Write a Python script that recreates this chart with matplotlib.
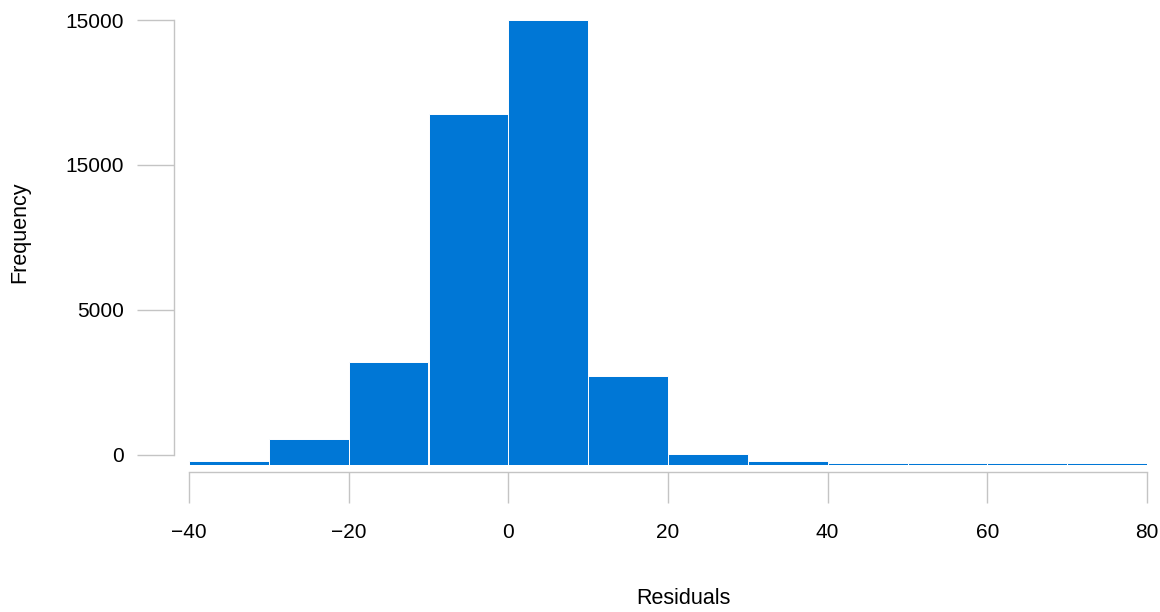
import numpy as np
import matplotlib.pyplot as plt

plt.rcParams['font.family'] = ['Liberation Sans', 'DejaVu Sans']

# histogram bins (residuals) and counts
bin_edges = [-40, -30, -20, -10, 0, 10, 20, 30, 40, 50, 60, 70, 80]
counts = [150, 890, 3540, 12090, 15330, 3080, 380, 130, 80, 80, 60, 60]
base = -345  # bars start a little below the 0 tick, as in the reference

x_ticks = [-40, -20, 0, 20, 40, 60, 80]
x_labels = ['\u221240', '\u221220', '0', '20', '40', '60', '80']
y_ticks = [0, 5000, 10000, 15000]
y_labels = ['0', '5000', '15000', '15000']

fig = plt.figure(figsize=(11.6, 6.12), dpi=100)
ax = fig.add_axes([189/1160, 1 - 465/612, 958/1160, 445/612])

left = np.array(bin_edges[:-1])
widths = np.diff(bin_edges)
ax.bar(left, counts, width=widths, bottom=base, align='edge',
       color='#0077d6', edgecolor='white', linewidth=0.7)

ax.set_xlim(-40, 80)
ax.set_ylim(base, 15000)

grey = '#c4c4c4'
for s in ['top', 'right']:
    ax.spines[s].set_visible(False)
ax.spines['left'].set_position(('outward', 11))
ax.spines['left'].set_bounds(0, 15000)
ax.spines['bottom'].set_position(('outward', 5.3))
ax.spines['bottom'].set_bounds(-40, 80)
for s in ['left', 'bottom']:
    ax.spines[s].set_color(grey)
    ax.spines[s].set_linewidth(1.0)

ax.set_xticks(x_ticks)
ax.set_xticklabels(x_labels)
ax.set_yticks(y_ticks)
ax.set_yticklabels(y_labels)
ax.tick_params(axis='y', length=26.6, width=1.0, color=grey, pad=9, labelsize=15)
ax.tick_params(axis='x', length=22.3, width=1.0, color=grey, pad=14, labelsize=15)

fig.text(20/1160, 1 - 232/612, 'Frequency', rotation=90, ha='center', va='center', fontsize=15.5)
fig.text(683/1160, 1 - 598/612, 'Residuals', ha='center', va='center', fontsize=15.5)

fig.savefig('out.png', dpi=100)
